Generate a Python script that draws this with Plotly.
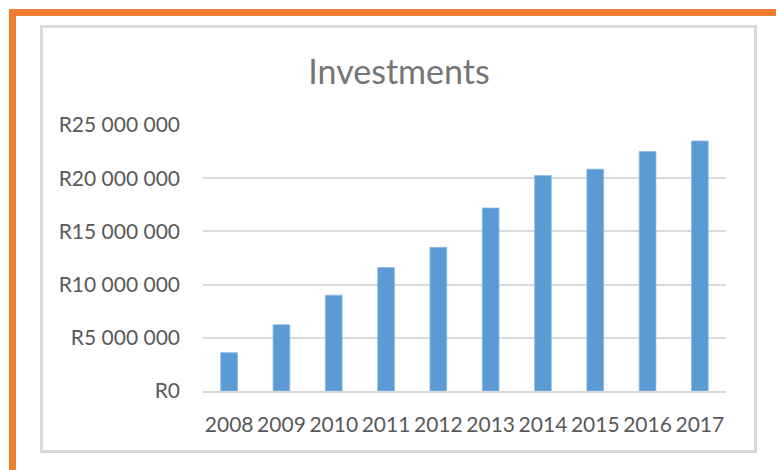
import plotly.graph_objects as go

years = ["2008", "2009", "2010", "2011", "2012", "2013", "2014", "2015", "2016", "2017"]
investments = [3600000, 6230000, 9000000, 11600000, 13500000, 17200000, 20250000, 20850000, 22500000, 23500000]
y_tick_values = [0, 5000000, 10000000, 15000000, 20000000, 25000000]
y_tick_labels = ["R0", "R5 000 000", "R10 000 000", "R15 000 000", "R20 000 000", "R25 000 000"]

W, H = 776, 470
L, R, T, B = 203, 50, 125, 79
PW, PH = W - L - R, H - T - B


def px_x(p):
    return (p - L) / PW


def px_y(p):
    return (H - B - p) / PH


fig = go.Figure()
fig.add_trace(go.Bar(
    x=years, y=investments,
    marker=dict(color="#5B9BD5", line=dict(color="#8DB9E4", width=0.8)),
    width=0.32,
))

shapes = [
    # chart area border
    dict(type="rect", xref="paper", yref="paper",
         x0=px_x(41.5), x1=px_x(755.5), y0=px_y(451.5), y1=px_y(26.5),
         line=dict(color="#D9D9D9", width=3), fillcolor="rgba(0,0,0,0)", layer="below"),
    # orange frame top
    dict(type="rect", xref="paper", yref="paper",
         x0=px_x(9), x1=px_x(790), y0=px_y(16), y1=px_y(9),
         line=dict(width=0), fillcolor="#ED7D31"),
    # orange frame left
    dict(type="rect", xref="paper", yref="paper",
         x0=px_x(9), x1=px_x(16), y0=px_y(480), y1=px_y(9),
         line=dict(width=0), fillcolor="#ED7D31"),
]

fig.update_layout(
    width=W, height=H,
    margin=dict(l=L, r=R, t=T, b=B),
    paper_bgcolor="white", plot_bgcolor="white",
    font=dict(family="Lato, Open Sans, sans-serif", color="#595959", size=21),
    title=dict(text="Investments", x=399 / W, xref="container", xanchor="center",
               y=1 - 72 / H, yref="container", yanchor="middle",
               font=dict(size=34, color="#757575", family="Lato, Open Sans, sans-serif")),
    showlegend=False,
    shapes=shapes,
)
fig.update_xaxes(type="category", showgrid=False, showline=True, linecolor="#D9D9D9", linewidth=2,
                 ticks="", ticklabelstandoff=14, tickfont=dict(size=21, color="#595959"))
fig.update_yaxes(range=[0, 25000000], tickvals=y_tick_values, ticktext=y_tick_labels,
                 showgrid=True, gridcolor="#D9D9D9", gridwidth=2, zeroline=False, showline=False,
                 ticks="", ticklabelstandoff=22, tickfont=dict(size=21, color="#595959"))

fig.write_html("out.html", config={"displayModeBar": False},
               post_script="document.body.style.margin='0px';document.body.style.padding='0px';")
